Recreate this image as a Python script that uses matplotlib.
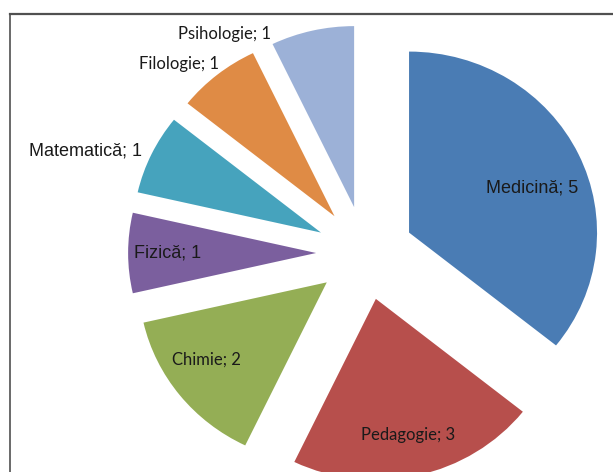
import numpy as np
import matplotlib.pyplot as plt
from matplotlib.lines import Line2D

# date
domenii = ["Medicină", "Pedagogie", "Chimie", "Fizică", "Matematică", "Filologie", "Psihologie"]
valori = [5, 3, 2, 1, 1, 1, 1]
culori = ["#4a7cb4", "#b74f4c", "#94ae55", "#7b5f9e", "#46a3bd", "#df8b45", "#9cb1d7"]

# pozitia etichetelor fata de centrul fiecarei felii (distanta, rotire in grade)
dist_etichete = [0.70, 0.77, 0.77, 0.79, 1.33, 1.18, 1.18]
rot_etichete = [-5, 0, -5, 0, 6, 6, 23]
fonturi = ["Liberation Sans", "Lato", "Lato", "Liberation Sans", "Liberation Sans", "Lato", "Lato"]
marimi = [13, 12, 12, 13, 13, 12, 12]

W, H = 613, 472
cx, cy = 365, 253      # centrul graficului in pixeli
rx, ry = 188, 181      # raza in pixeli (usor turtita)

fig = plt.figure(figsize=(W / 100, H / 100), dpi=100)
ax = fig.add_axes([0, 0, 1, 1])

wedges, _ = ax.pie(
    valori,
    colors=culori,
    startangle=90,
    counterclock=False,
    explode=[0.26] * len(valori),
    wedgeprops=dict(linewidth=0),
)

for w, nume, v, d, rot, fnt, fs in zip(wedges, domenii, valori, dist_etichete,
                                       rot_etichete, fonturi, marimi):
    mid = np.deg2rad((w.theta1 + w.theta2) / 2 + rot)
    x0, y0 = w.center
    ax.text(x0 + d * np.cos(mid), y0 + d * np.sin(mid), f"{nume}; {v}",
            ha="center", va="center", fontsize=fs, family=fnt, color="#1a1a1a")

ax.set_aspect("auto")
ax.set_xlim(-cx / rx, (W - cx) / rx)
ax.set_ylim(-(H - cy) / ry, cy / ry)
ax.axis("off")

# chenarul zonei graficului
fig.add_artist(Line2D([9.5 / W, 1], [1 - 13.5 / H, 1 - 13.5 / H], color="#505050", lw=1.6))
fig.add_artist(Line2D([9.5 / W, 9.5 / W], [0, 1 - 13.5 / H], color="#505050", lw=1.2))

plt.savefig("out.png", dpi=100)
